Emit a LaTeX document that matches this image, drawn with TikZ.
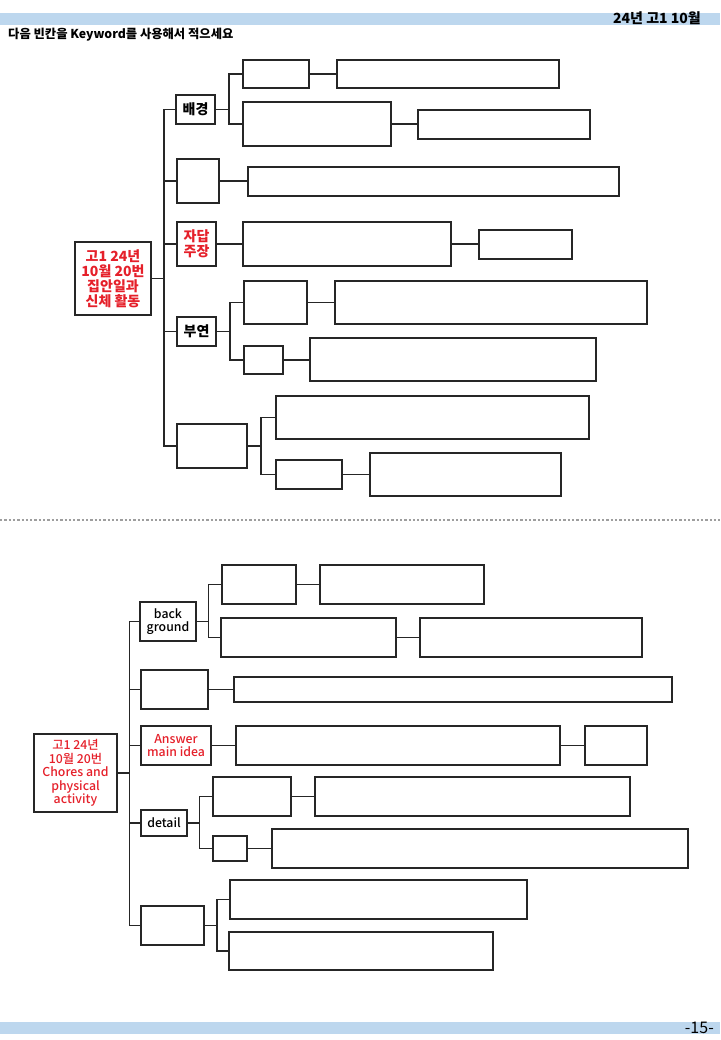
\documentclass[tikz,border=0pt]{standalone}
\usepackage{fontspec}
\setmainfont{Noto Sans CJK KR}
\newfontfamily\medfont{Noto Sans CJK KR Medium}
\definecolor{barblue}{HTML}{BDD7EE}
\definecolor{labred}{HTML}{E5202A}
\definecolor{linegray}{HTML}{9E9E9E}
\newcommand\bx[7][]{\node[box,#1,minimum width={(#5-#3)*1pt},minimum height={(#6-#4)*1pt}] (#2) at ({(#3+#5)/2},{(#4+#6)/2}) {#7};}
\begin{document}
\begin{tikzpicture}[x=1pt,y=-1pt,
  box/.style={draw=black!85,line width=1.3pt,inner sep=0pt,outer sep=0pt,align=center},
  wire/.style={draw=black!85,line width=1.6pt},
  toplab/.style={font=\fontsize{14}{15}\selectfont\bfseries},
  botlab/.style={font=\fontsize{12.3}{13.4}\selectfont\medfont},
  redtxt/.style={text=labred}]
\useasboundingbox (0,0) rectangle (720,1040);
% header / footer
\fill[barblue] (0,13) rectangle (720,25);
\node[anchor=base east,inner sep=0pt,font=\fontsize{14}{15}\selectfont\bfseries] (hdr) at (701,24) {24년 고1 10월};
\node[anchor=base west,inner sep=0pt,font=\fontsize{12.3}{13}\selectfont\bfseries] (instr) at (8,39) {다음 빈칸을 Keyword를 사용해서 적으세요};
\fill[barblue] (0,1022) rectangle (720,1034);
\node[anchor=base east,inner sep=0pt,font=\fontsize{16}{17}\selectfont] (pg) at (714,1033) {-15-};
\coordinate (dl) at (0,520);
\coordinate (dr) at (720,520);
\draw[linegray,line width=2.3pt,dash pattern=on 2.3pt off 2pt] (dl) -- (dr);

% ===== top tree =====
\bx[toplab,redtxt]{root}{75}{242}{151}{315}{고1 24년\\10월 20번\\집안일과\\신체 활동}
\bx[toplab]{bg}{176}{95}{215}{124}{배경}
\bx{bga}{243}{60}{309}{88}{}
\bx{bgab}{337}{60}{559}{88}{}
\bx{bgb}{243}{102}{391}{146}{}
\bx{bgbb}{418}{110}{590}{139}{}
\bx{bt}{177}{159}{219}{203}{}
\bx{btc}{248}{167}{619}{196}{}
\bx[toplab,redtxt]{jd}{177}{222}{216}{266}{자답\\주장}
\bx{jdc}{243}{222}{451}{266}{}
\bx{jdcc}{479}{230}{572}{259}{}
\bx[toplab]{by}{177}{317}{216}{346}{부연}
\bx{bya}{244}{281}{307}{324}{}
\bx{byab}{335}{281}{647}{324}{}
\bx{byb}{244}{346}{283}{374}{}
\bx{bybb}{310}{338}{596}{381}{}
\bx{ls}{177}{424}{247}{468}{}
\bx{lsa}{276}{396}{589}{439}{}
\bx{lsb}{276}{460}{342}{489}{}
\bx{lsbb}{370}{453}{561}{496}{}

\coordinate (T) at (164,278.5);
\draw[wire] (root.east) -- (T);
\draw[wire] (T) |- (bg.west);
\draw[wire] (T) |- (bt.west);
\draw[wire] (T) |- (jd.west);
\draw[wire] (T) |- (by.west);
\draw[wire] (T) |- (ls.west);
\coordinate (sbg) at (229,109.5);
\draw[wire] (bg.east) -- (sbg);
\draw[wire] (sbg) |- (bga.west);
\draw[wire] (sbg) |- (bgb.west);
\draw[wire] (bga.east) -- (bga.east -| bgab.west);
\draw[wire] (bgb.east) -- (bgb.east -| bgbb.west);
\draw[wire] (bt.east) -- (bt.east -| btc.west);
\draw[wire] (jd.east) -- (jd.east -| jdc.west);
\draw[wire] (jdc.east) -- (jdc.east -| jdcc.west);
\coordinate (sby) at (230,331.5);
\draw[wire] (by.east) -- (sby);
\draw[wire] (sby) |- (bya.west);
\draw[wire] (sby) |- (byb.west);
\draw[wire] (bya.east) -- (bya.east -| byab.west);
\draw[wire] (byb.east) -- (byb.east -| bybb.west);
\coordinate (sls) at (261,446);
\draw[wire] (ls.east) -- (sls);
\draw[wire] (sls) |- (lsa.west);
\draw[wire] (sls) |- (lsb.west);
\draw[wire] (lsb.east) -- (lsb.east -| lsbb.west);

% ===== bottom tree =====
\bx[botlab,redtxt]{Root}{34}{734}{117}{812}{고1 24년\\10월 20번\\Chores and\\physical\\activity}
\bx[botlab]{bgd}{140}{602}{196}{641}{back\\ground}
\bx{bgda}{222}{565}{296}{604}{}
\bx{bgdab}{320}{565}{484}{604}{}
\bx{bgdb}{221}{618}{396}{657}{}
\bx{bgdbb}{420}{618}{642}{657}{}
\bx{Bt}{141}{670}{208}{709}{}
\bx{Btc}{234}{677}{672}{702}{}
\bx[botlab,redtxt]{ans}{141}{726}{211}{765}{Answer\\main idea}
\bx{ansc}{236}{726}{560}{765}{}
\bx{anscc}{585}{726}{647}{765}{}
\bx[botlab]{det}{141}{810}{187}{836}{detail}
\bx{deta}{213}{777}{291}{816}{}
\bx{detab}{315}{777}{630}{816}{}
\bx{detb}{213}{836}{247}{861}{}
\bx{detbb}{272}{829}{688}{868}{}
\bx{Ls}{141}{906}{204}{945}{}
\bx{Lsa}{230}{880}{527}{919}{}
\bx{Lsb}{229}{932}{493}{970}{}

\coordinate (B) at (129.5,773);
\draw[wire] (Root.east) -- (B);
\draw[wire] (B) |- (bgd.west);
\draw[wire] (B) |- (Bt.west);
\draw[wire] (B) |- (ans.west);
\draw[wire] (B) |- (det.west);
\draw[wire] (B) |- (Ls.west);
\coordinate (sbgd) at (208.5,621.5);
\draw[wire] (bgd.east) -- (sbgd);
\draw[wire] (sbgd) |- (bgda.west);
\draw[wire] (sbgd) |- (bgdb.west);
\draw[wire] (bgda.east) -- (bgda.east -| bgdab.west);
\draw[wire] (bgdb.east) -- (bgdb.east -| bgdbb.west);
\draw[wire] (Bt.east) -- (Bt.east -| Btc.west);
\draw[wire] (ans.east) -- (ans.east -| ansc.west);
\draw[wire] (ansc.east) -- (ansc.east -| anscc.west);
\coordinate (sdet) at (199.5,823);
\draw[wire] (det.east) -- (sdet);
\draw[wire] (sdet) |- (deta.west);
\draw[wire] (sdet) |- (detb.west);
\draw[wire] (deta.east) -- (deta.east -| detab.west);
\draw[wire] (detb.east) -- (detb.east -| detbb.west);
\coordinate (sL) at (217,925.5);
\draw[wire] (Ls.east) -- (sL);
\draw[wire] (sL) |- (Lsa.west);
\draw[wire] (sL) |- (Lsb.west);
\end{tikzpicture}
\end{document}
